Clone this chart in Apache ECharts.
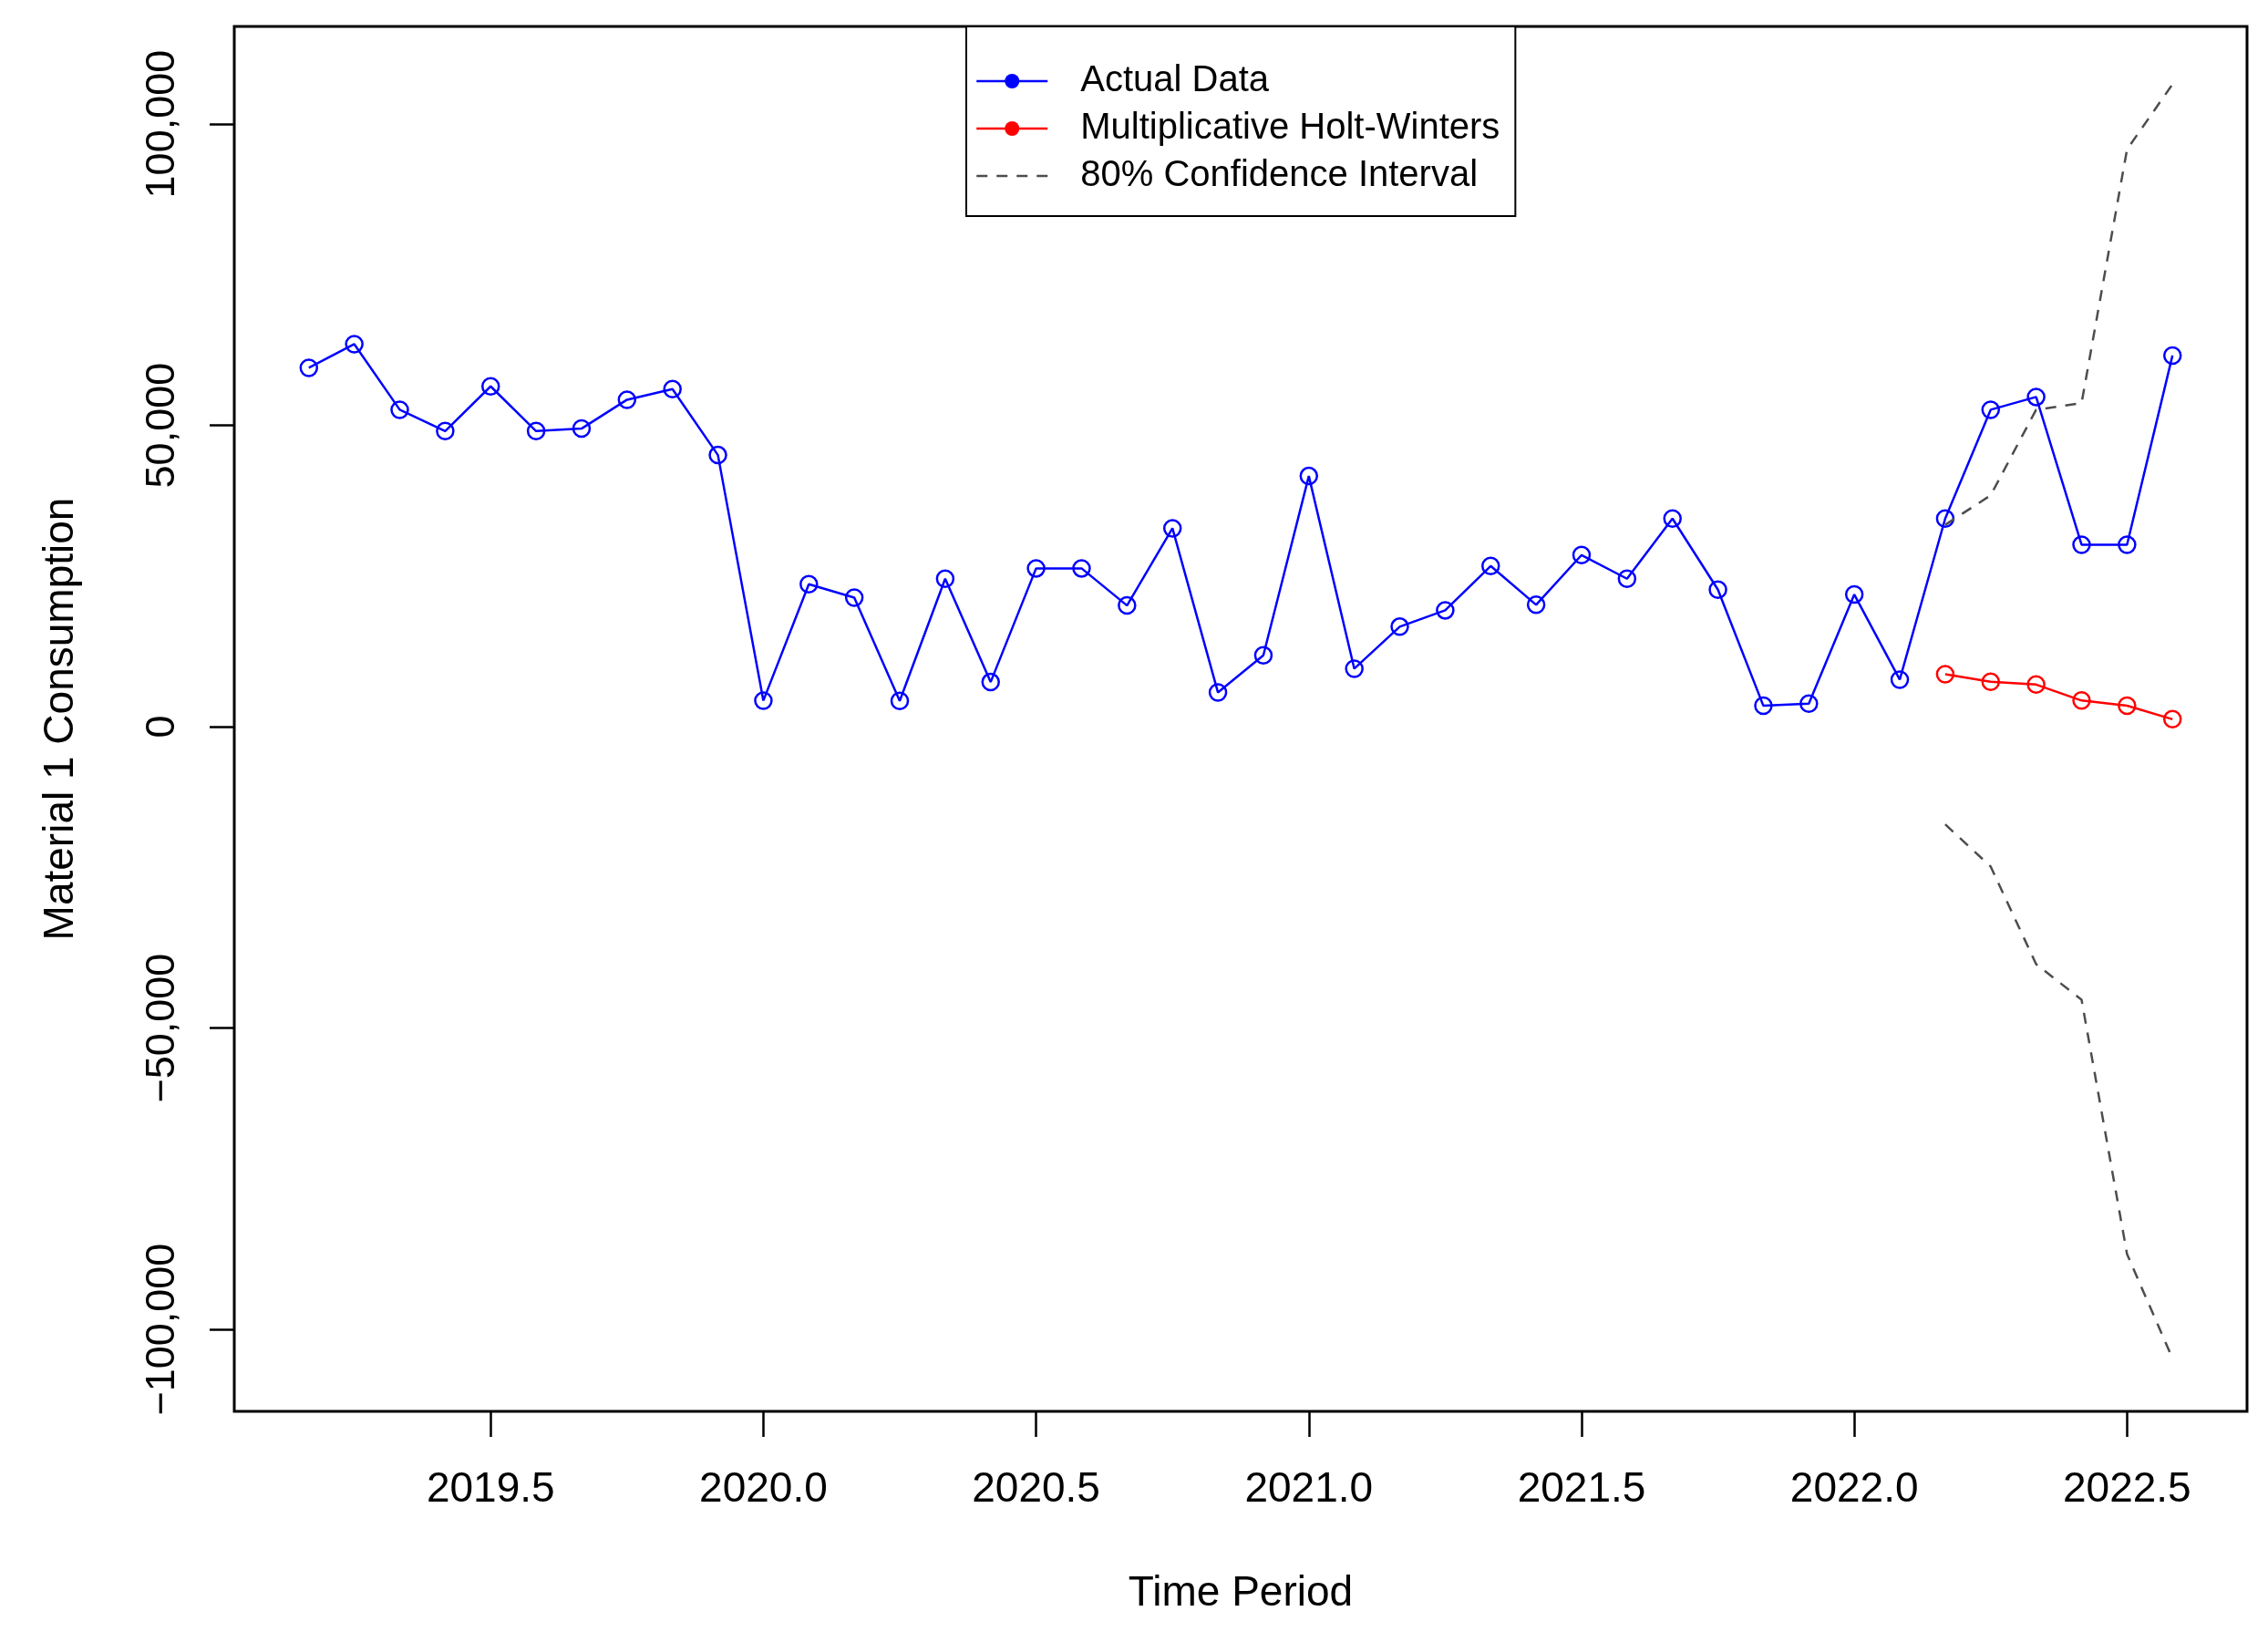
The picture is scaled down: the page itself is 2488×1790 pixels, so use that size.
<!DOCTYPE html>
<html>
<head>
<meta charset="utf-8">
<script src="https://cdn.jsdelivr.net/npm/echarts@6/dist/echarts.min.js"></script>
<style>
html, body { margin: 0; padding: 0; background: #ffffff; }
#chart { width: 2488px; height: 1790px; }
</style>
</head>
<body>
<div id="chart"></div>
<script>
// ---- Data ----
const frequency = 12;               // monthly series
const actualStart = [2019, 3];      // year, month of first observation
const forecastStart = [2022, 3];    // year, month of first forecast

const actualData = [59560, 63490, 52600, 49060, 56480, 49060, 49470, 54260, 56020, 45080,
                    4340, 23650, 21430, 4280, 24560, 7410, 26280, 26280, 20120, 32930,
                    5700, 11850, 41600, 9630, 16600, 19320, 26670, 20230, 28490, 24560,
                    34540, 22740, 3480, 3830, 21940, 7820, 34540, 52600, 54720, 30200,
                    30200, 61600];
const hwForecast = [8700, 7450, 7000, 4350, 3500, 1250];
const ciUpper = [33500, 38400, 52600, 53700, 95800, 106600];
const ciLower = [-16200, -23200, -39400, -45300, -87500, -104800];

const xTickValues = [2019.5, 2020.0, 2020.5, 2021.0, 2021.5, 2022.0, 2022.5];
const yTickValues = [-100000, -50000, 0, 50000, 100000];
const xRange = [2019.03, 2022.72];
const yRange = [-113600, 116200];

const seriesNames = ['Actual Data', 'Multiplicative Holt-Winters', '80% Confidence Interval'];
const xTitle = 'Time Period';
const yTitle = 'Material 1 Consumption';

// ---- Helpers ----
function timeOf(start, i) { return start[0] + (start[1] - 1 + i) / frequency; }
function toPairs(start, values) { return values.map((v, i) => [timeOf(start, i), v]); }
function fmtY(v) {
  const s = String(Math.abs(Math.round(v))).replace(/\B(?=(\d{3})+(?!\d))/g, ',');
  return (v < 0 ? '\u2212' : '') + s;
}

const FONT = "'Liberation Sans', Arial, sans-serif";

const chart = echarts.init(document.getElementById('chart'), null, { renderer: 'canvas' });

const option = {
  animation: false,
  backgroundColor: '#ffffff',
  grid: {
    left: 257, top: 29, right: 23, bottom: 242,
    show: true, borderColor: '#000000', borderWidth: 3, backgroundColor: 'transparent'
  },
  legend: {
    orient: 'vertical',
    left: 1060, top: 29,
    padding: [40, 17, 24, 10],
    itemWidth: 78, itemHeight: 20, itemGap: 12,
    borderColor: '#000000', borderWidth: 2,
    backgroundColor: '#ffffff',
    selectedMode: false,
    textStyle: { fontFamily: FONT, fontSize: 40, color: '#000000', padding: [0, 0, 0, 31] },
    lineStyle: { width: 2.5 },
    data: [
      { name: seriesNames[0], itemStyle: { color: '#0000ff', borderColor: '#0000ff', borderWidth: 0 } },
      { name: seriesNames[1], itemStyle: { color: '#ff0000', borderColor: '#ff0000', borderWidth: 0 } },
      { name: seriesNames[2], itemStyle: { color: 'rgba(0,0,0,0)', borderColor: 'rgba(0,0,0,0)', borderWidth: 0 } }
    ]
  },
  xAxis: {
    type: 'value',
    min: xRange[0], max: xRange[1],
    axisLine: { show: false, onZero: false },
    splitLine: { show: false },
    axisTick: { show: true, inside: false, length: 28, customValues: xTickValues,
                lineStyle: { color: '#000000', width: 2.5 } },
    axisLabel: { show: true, customValues: xTickValues, margin: 63,
                 fontFamily: FONT, fontSize: 46, color: '#000000',
                 formatter: v => Number(v).toFixed(1) },
    name: xTitle, nameLocation: 'middle', nameGap: 177,
    nameTextStyle: { fontFamily: FONT, fontSize: 46, color: '#000000' }
  },
  yAxis: {
    type: 'value',
    min: yRange[0], max: yRange[1],
    axisLine: { show: false, onZero: false },
    splitLine: { show: false },
    axisTick: { show: true, inside: false, length: 27, customValues: yTickValues,
                lineStyle: { color: '#000000', width: 2.5 } },
    axisLabel: { show: true, customValues: yTickValues, rotate: 90, margin: 56,
                 fontFamily: FONT, fontSize: 45, color: '#000000',
                 formatter: v => fmtY(v) },
    name: yTitle, nameLocation: 'middle', nameGap: 167, nameRotate: 90,
    nameTextStyle: { fontFamily: FONT, fontSize: 46, color: '#000000' }
  },
  series: [
    {
      name: seriesNames[0], type: 'line',
      data: toPairs(actualStart, actualData),
      showAllSymbol: true, symbol: 'circle', symbolSize: 18,
      lineStyle: { color: '#0000ff', width: 2.5 },
      itemStyle: { color: 'rgba(255,255,255,0)', borderColor: '#0000ff', borderWidth: 2.5 },
      emphasis: { disabled: true }, z: 2
    },
    {
      name: seriesNames[1], type: 'line',
      data: toPairs(forecastStart, hwForecast),
      showAllSymbol: true, symbol: 'circle', symbolSize: 18,
      lineStyle: { color: '#ff0000', width: 2.5 },
      itemStyle: { color: 'rgba(255,255,255,0)', borderColor: '#ff0000', borderWidth: 2.5 },
      emphasis: { disabled: true }, z: 3
    },
    {
      name: seriesNames[2], type: 'line',
      data: toPairs(forecastStart, ciUpper),
      symbol: 'none',
      lineStyle: { color: '#4d4d4d', width: 2.5, type: [12, 10] },
      itemStyle: { color: '#4d4d4d' },
      emphasis: { disabled: true }, z: 4
    },
    {
      name: seriesNames[2], type: 'line',
      data: toPairs(forecastStart, ciLower),
      symbol: 'none',
      lineStyle: { color: '#4d4d4d', width: 2.5, type: [12, 10] },
      itemStyle: { color: '#4d4d4d' },
      emphasis: { disabled: true }, z: 4
    }
  ]
};

chart.setOption(option);
</script>
</body>
</html>
